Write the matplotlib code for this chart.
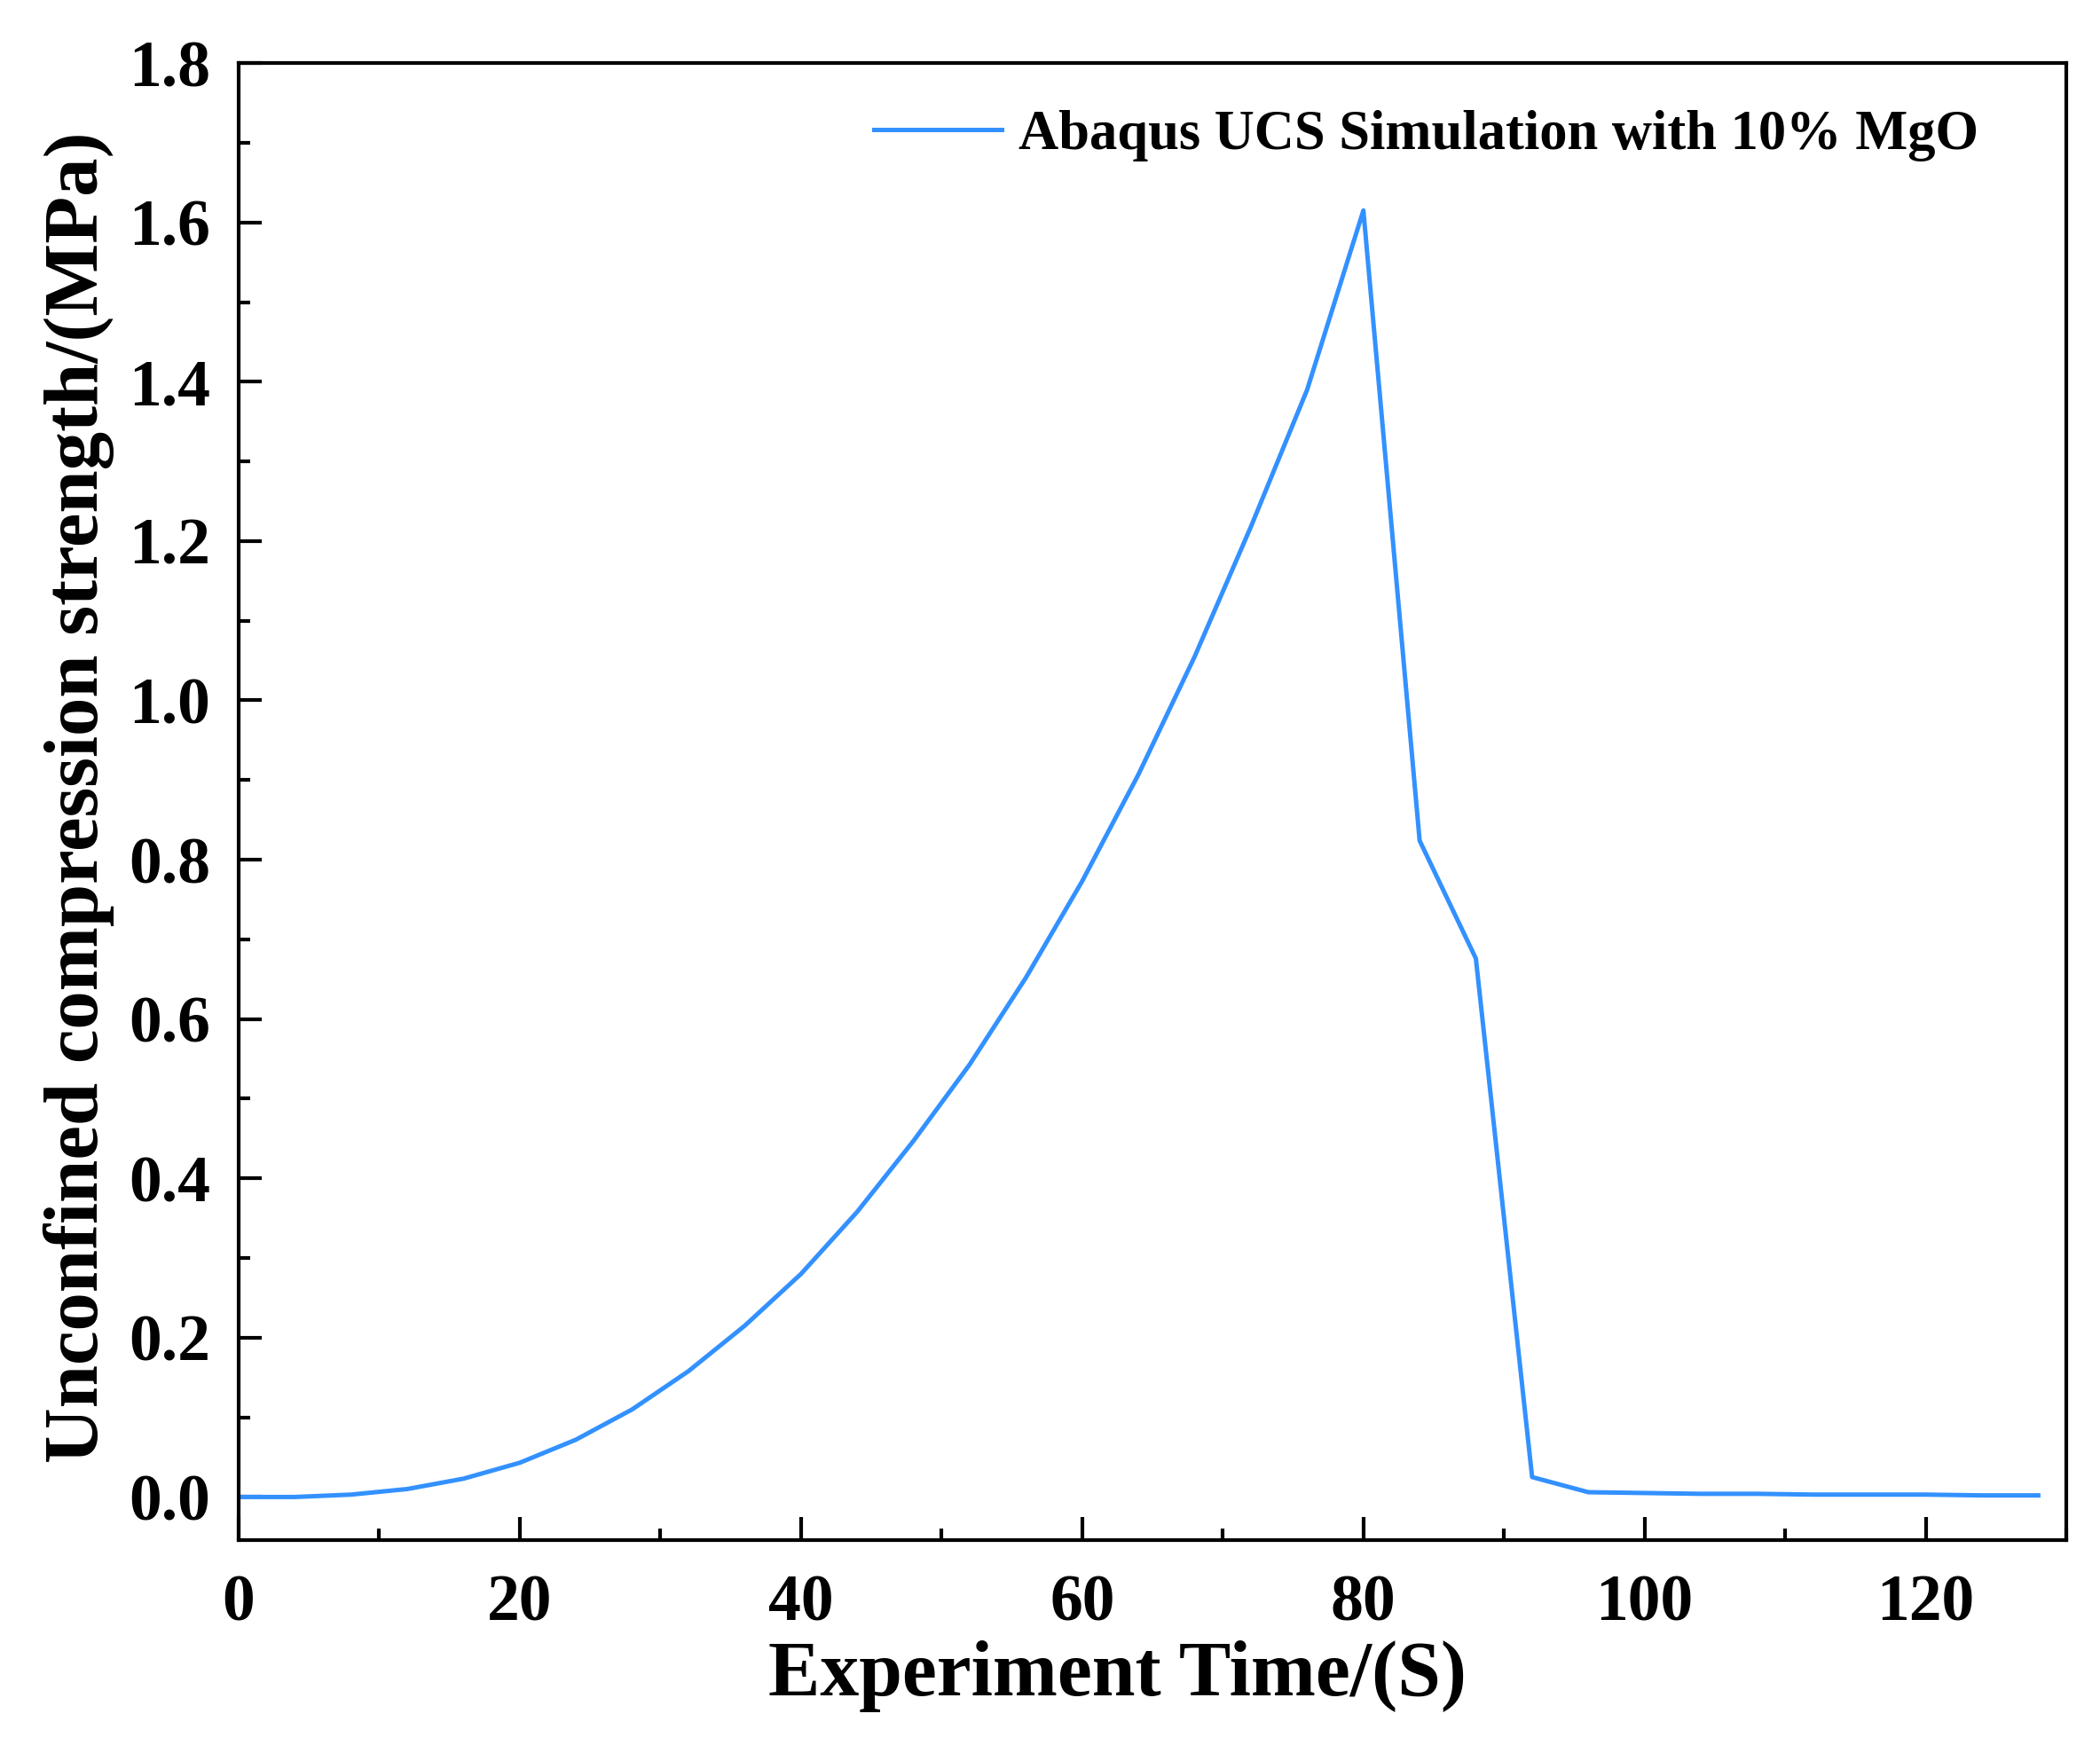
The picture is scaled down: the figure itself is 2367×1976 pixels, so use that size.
import matplotlib
matplotlib.use("Agg")
from matplotlib import pyplot as plt
from matplotlib.ticker import MultipleLocator, FormatStrFormatter

# simulated UCS curve, sampled every 4 s
time_s = [0, 4, 8, 12, 16, 20, 24, 28, 32, 36, 40, 44, 48, 52, 56, 60, 64,
          68, 72, 76, 80, 84, 88, 92, 96, 100, 104, 108, 112, 116, 120, 124, 128]
ucs_mpa = [0.0, 0.0, 0.003, 0.01, 0.023, 0.043, 0.072, 0.11, 0.158, 0.215,
           0.28, 0.358, 0.447, 0.543, 0.652, 0.773, 0.907, 1.055, 1.218, 1.39,
           1.615, 0.824, 0.676, 0.025, 0.006, 0.005, 0.004, 0.004, 0.003,
           0.003, 0.003, 0.002, 0.002]
series_label = "Abaqus UCS Simulation with 10% MgO"

plt.rcParams['font.family'] = ['Liberation Serif', 'DejaVu Serif']
plt.rcParams['font.weight'] = 'bold'

fig = plt.figure(figsize=(23.67, 19.76), dpi=100)
ax = fig.add_axes([0.1136, 0.1215, 0.8704, 0.8425])

ax.plot(time_s, ucs_mpa, color='#3391FF', lw=3.6, label=series_label)

ax.set_xlim(0, 130)
ax.set_ylim(-0.054, 1.8)
ax.xaxis.set_major_locator(MultipleLocator(20))
ax.xaxis.set_minor_locator(MultipleLocator(10))
ax.yaxis.set_major_locator(MultipleLocator(0.2))
ax.yaxis.set_minor_locator(MultipleLocator(0.1))
ax.yaxis.set_major_formatter(FormatStrFormatter('%.1f'))

ax.tick_params(which='both', direction='in', top=False, right=False, width=3.0)
ax.tick_params(which='major', length=19, labelsize=53)
ax.tick_params(which='minor', length=9.5)
ax.tick_params(axis='x', which='major', pad=28)
ax.tick_params(axis='y', which='major', pad=23)
for sp in ax.spines.values():
    sp.set_linewidth(3.0)

ax.set_xlabel("Experiment Time/(S)", fontsize=63, fontweight='bold')
ax.set_ylabel("Unconfined compression strength/(MPa)", fontsize=62.5, fontweight='bold')
ax.xaxis.set_label_coords(0.481, -0.068)
ax.yaxis.set_label_coords(-0.068, 0.503)

leg = ax.legend(loc='center right', frameon=False, fontsize=45, handlelength=2.3,
                handletextpad=0.3, bbox_to_anchor=(0.979, 0.951))

fig.savefig("out.png", dpi=100)
